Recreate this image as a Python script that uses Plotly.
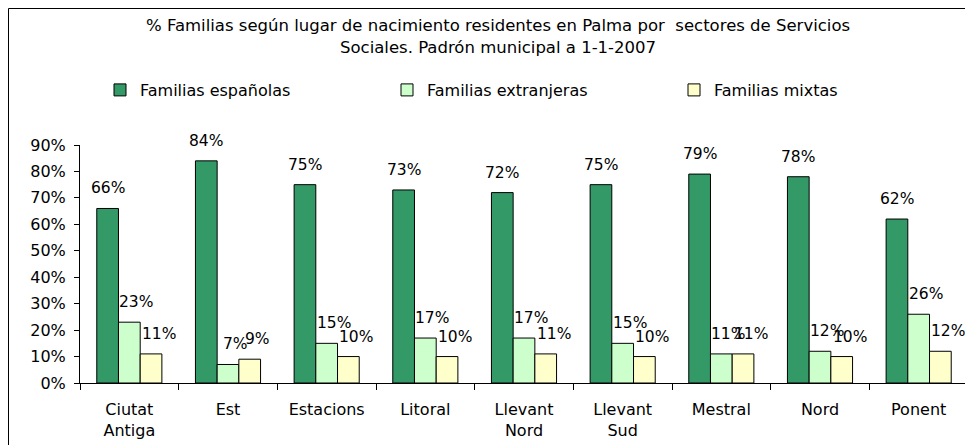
import plotly.graph_objects as go

categories = ["Ciutat<br>Antiga", "Est", "Estacions", "Litoral", "Llevant<br>Nord",
              "Llevant<br>Sud", "Mestral", "Nord", "Ponent"]
espanolas = [0.66, 0.84, 0.75, 0.73, 0.72, 0.75, 0.79, 0.78, 0.62]
extranjeras = [0.23, 0.07, 0.15, 0.17, 0.17, 0.15, 0.11, 0.12, 0.26]
mixtas = [0.11, 0.09, 0.10, 0.10, 0.11, 0.10, 0.11, 0.10, 0.12]
series_names = ["Familias españolas", "Familias extranjeras", "Familias mixtas"]
title_lines = ["% Familias según lugar de nacimiento residentes en Palma por  sectores de Servicios",
               "Sociales. Padrón municipal a 1-1-2007"]
ytick_vals = [0, 0.1, 0.2, 0.3, 0.4, 0.5, 0.6, 0.7, 0.8, 0.9]

colors = ["#339966", "#CCFFCC", "#FFFFCC"]
FONT = "DejaVu Sans"
W, H = 973, 445
# page has an 8px body margin; positions below are in figure coordinates
L, R, T, B = 72, 13, 137, 70
plot_w = W - L - R
plot_h = H - T - B
bargap = 0.34
bar_px = plot_w / len(categories) * (1 - bargap) / 3

fig = go.Figure()
series = [espanolas, extranjeras, mixtas]
for name, vals, col in zip(series_names, series, colors):
    fig.add_trace(go.Bar(
        x=categories, y=vals, name=name,
        marker=dict(color=col, line=dict(color="black", width=1)),
    ))

label_xshift = [0, 7, 8]
for i, vals in enumerate(series):
    for c, v in zip(categories, vals):
        fig.add_annotation(
            x=c, y=v, xref="x", yref="y",
            text=f"{round(v * 100)}%", showarrow=False,
            xshift=(i - 1) * bar_px + label_xshift[i], yshift=20,
            yanchor="middle", xanchor="center",
            font=dict(family=FONT, size=15.5, color="black"),
        )

for k, line in enumerate(title_lines):
    fig.add_annotation(
        x=(490 - L) / plot_w, y=(H - B - [17, 40][k]) / plot_h,
        xref="paper", yref="paper", text=line, showarrow=False,
        xanchor="center", yanchor="middle",
        font=dict(family=FONT, size=16.5, color="black"),
    )

fig.add_shape(type="rect", xref="paper", yref="paper",
              x0=(0.5 - L) / plot_w, x1=(962 - L) / plot_w,
              y0=(H - B - 460) / plot_h, y1=(H - B - 0.5) / plot_h,
              line=dict(color="black", width=1), fillcolor="rgba(0,0,0,0)", layer="below")

fig.update_layout(
    width=W, height=H,
    margin=dict(l=L, r=R, t=T, b=B, pad=0, autoexpand=False),
    paper_bgcolor="white", plot_bgcolor="white",
    barmode="group", bargap=bargap, bargroupgap=0,
    font=dict(family=FONT, size=16, color="black"),
    showlegend=True,
    legend=dict(orientation="h", xref="container", yref="container",
                x=92 / W, y=1 - 82 / H, xanchor="left", yanchor="middle",
                entrywidth=242, entrywidthmode="pixels",
                font=dict(family=FONT, size=16, color="black"),
                bgcolor="rgba(0,0,0,0)"),
    xaxis=dict(showline=True, linecolor="black", linewidth=1, ticks="outside",
               tickson="boundaries", ticklen=6, tickcolor="black", showgrid=False,
               tickfont=dict(family=FONT, size=16), ticklabelstandoff=12,
               automargin=False, fixedrange=True),
    yaxis=dict(range=[0, 0.9], tickvals=ytick_vals, tickformat=".0%",
               showline=True, linecolor="black", linewidth=1, ticks="outside",
               ticklen=5, tickcolor="black", showgrid=False, zeroline=False,
               tickfont=dict(family=FONT, size=16), ticklabelstandoff=5,
               automargin=False, fixedrange=True),
)

fig.write_html("out.html")
